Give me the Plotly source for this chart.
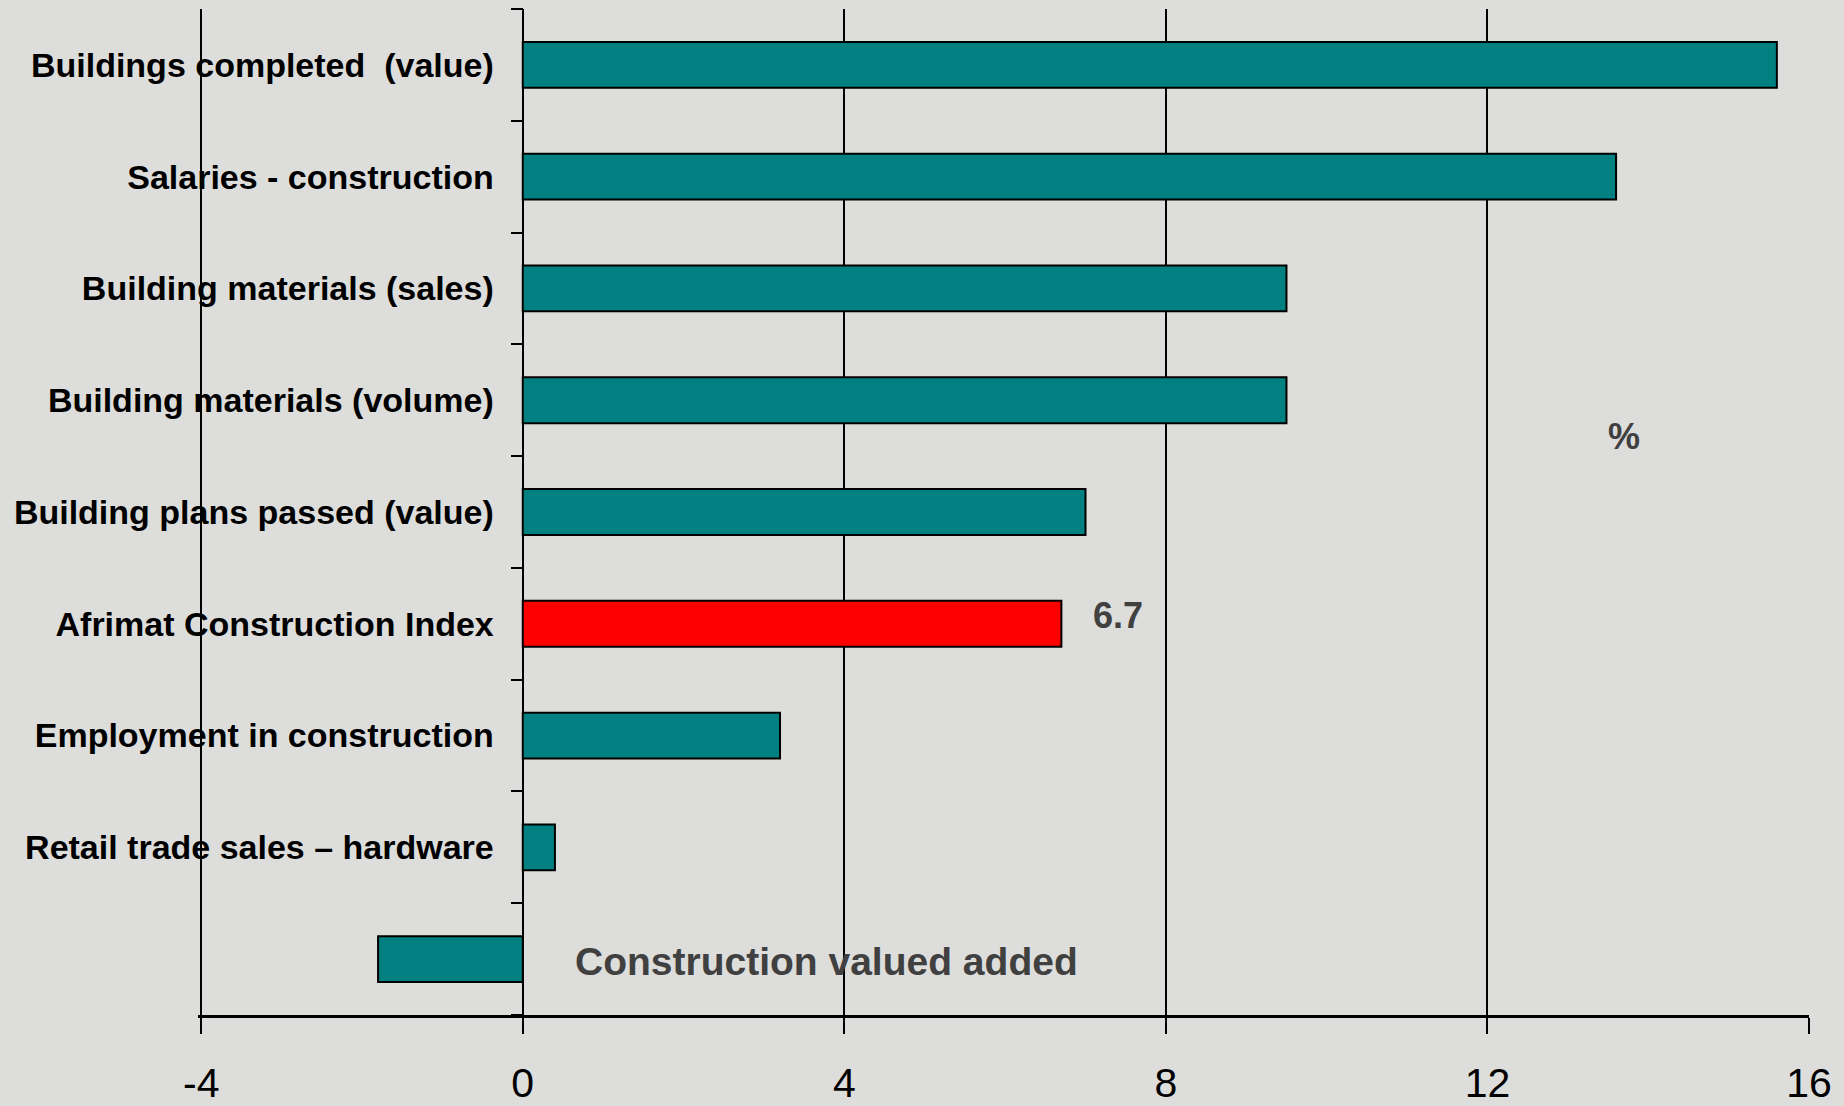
import plotly.graph_objects as go

categories = [
    "Buildings completed  (value)",
    "Salaries - construction",
    "Building materials (sales)",
    "Building materials (volume)",
    "Building plans passed (value)",
    "Afrimat Construction Index",
    "Employment in construction",
    "Retail trade sales \u2013 hardware",
    "Construction valued added",
]
tick_labels = categories[:-1] + [""]
values = [15.6, 13.6, 9.5, 9.5, 7.0, 6.7, 3.2, 0.4, -1.8]
colors = ["#008080"] * 5 + ["#FF0000"] + ["#008080"] * 3
x_ticks = [-4, 0, 4, 8, 12, 16]
x_tick_labels = ["-4", "0", "4", "8", "12", "16"]

BG = "#DDDDDB"
SANS = "Liberation Sans, Arial, sans-serif"
fig = go.Figure(go.Bar(
    x=values, y=categories, orientation="h",
    marker=dict(color=colors, line=dict(color="black", width=2)),
    showlegend=False,
))

fig.update_layout(
    width=1844, height=1106,
    margin=dict(l=198, r=35, t=9, b=91),
    paper_bgcolor=BG, plot_bgcolor=BG,
    bargap=0.59,
    xaxis=dict(
        range=[-4.04, 16], tickmode="array", tickvals=x_ticks, ticktext=x_tick_labels,
        showgrid=True, gridcolor="black", gridwidth=1.5,
        zeroline=True, zerolinecolor="black", zerolinewidth=2,
        showline=True, linecolor="black", linewidth=2.5,
        ticks="outside", ticklen=16, tickwidth=1.5, tickcolor="black",
        ticklabelstandoff=14, automargin=False,
        tickfont=dict(family=SANS, size=41, color="black"),
    ),
    yaxis=dict(
        type="category", categoryorder="array", categoryarray=categories,
        autorange="reversed",
        tickmode="array", tickvals=categories, ticktext=tick_labels,
        anchor="free", position=0.2016, side="left",
        showline=False,
        ticks="outside", ticklen=12, tickwidth=2, tickcolor="black", tickson="boundaries",
        ticklabelstandoff=29, automargin=False,
        showgrid=False, zeroline=False,
        tickfont=dict(family=SANS, size=34, color="black", weight="bold"),
    ),
)

fig.add_annotation(x=7.4, y=categories[5], xref="x", yref="y", text="6.7", showarrow=False,
                   yshift=8, font=dict(family=SANS, size=36, color="#404040", weight="bold"))
fig.add_annotation(x=3.78, y=categories[8], xref="x", yref="y", text="Construction valued added",
                   showarrow=False, yshift=-2,
                   font=dict(family=SANS, size=39, color="#404040", weight="bold"))
fig.add_annotation(x=13.7, y=0.5755, xref="x", yref="paper", text="%", showarrow=False,
                   font=dict(family=SANS, size=36, color="#404040", weight="bold"))

fig.write_html("out.html", config={"displayModeBar": False},
               post_script="document.body.style.margin='0';document.body.style.background='" + BG + "';")
